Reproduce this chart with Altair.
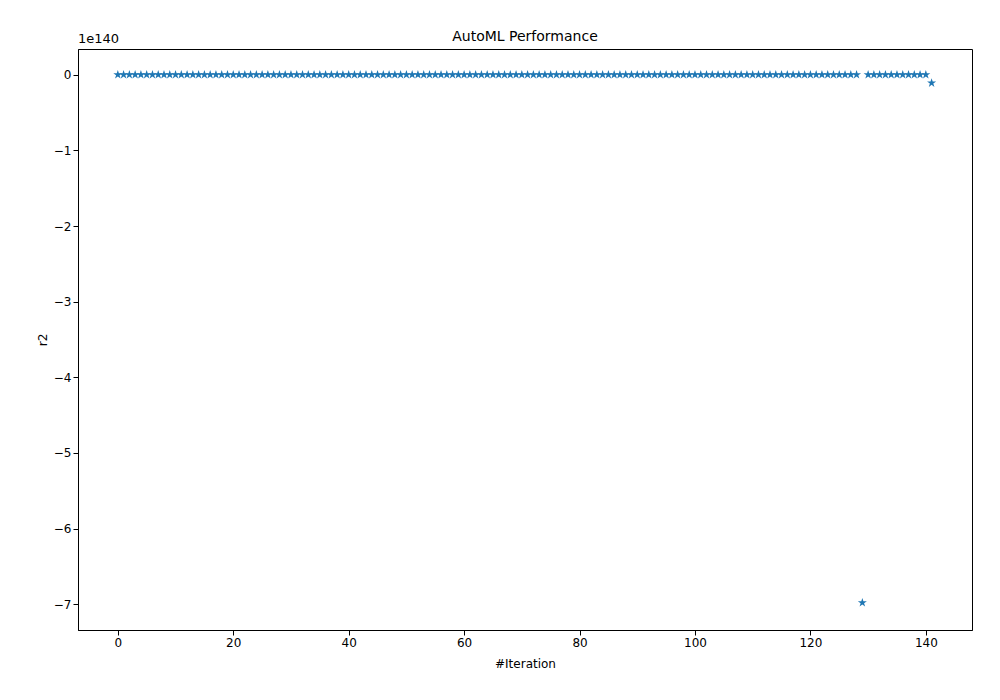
import altair as alt
import pandas as pd

iterations = list(range(142))
# r2 values in units of 1e140
r2 = [0.0] * 142
r2[129] = -6.98
r2[141] = -0.11

df = pd.DataFrame({"iter": iterations, "r2": r2})

star = "M0,-1L0.2245,-0.309L0.951,-0.309L0.363,0.118L0.588,0.809L0,0.382L-0.588,0.809L-0.363,0.118L-0.951,-0.309L-0.2245,-0.309Z"

pts = alt.Chart(df).mark_point(shape=star, filled=True, size=90, color="#1f77b4", opacity=1).encode(
    x=alt.X("iter:Q", title="#Iteration", scale=alt.Scale(domain=[-6.9, 148], nice=False, zero=False),
            axis=alt.Axis(values=[0, 20, 40, 60, 80, 100, 120, 140], grid=False, titlePadding=10)),
    y=alt.Y("r2:Q", title="r2", scale=alt.Scale(domain=[-7.34, 0.34], nice=False, zero=False),
            axis=alt.Axis(values=[-7, -6, -5, -4, -3, -2, -1, 0], grid=False)),
)

exp = alt.Chart(pd.DataFrame({"t": ["1e140"]})).mark_text(
    align="left", baseline="bottom", fontSize=13, font="DejaVu Sans", color="black"
).encode(text="t:N", x=alt.value(0), y=alt.value(-3))

chart = (pts + exp).properties(
    width=894, height=581,
    title=alt.TitleParams("AutoML Performance", fontSize=14, fontWeight="normal", font="DejaVu Sans", offset=6),
    autosize=alt.AutoSizeParams(type="none"),
    padding={"left": 70, "top": 41, "right": 20, "bottom": 50},
).configure_title(offset=0, dy=17).configure_axis(
    labelFont="DejaVu Sans", titleFont="DejaVu Sans", labelFontSize=12, titleFontSize=12,
    titleFontWeight="normal", domainColor="black", tickColor="black", labelColor="black", titleColor="black",
).configure_view(stroke="black", strokeWidth=1)

chart.save("out.html", embed_options={"renderer": "svg", "actions": False})
